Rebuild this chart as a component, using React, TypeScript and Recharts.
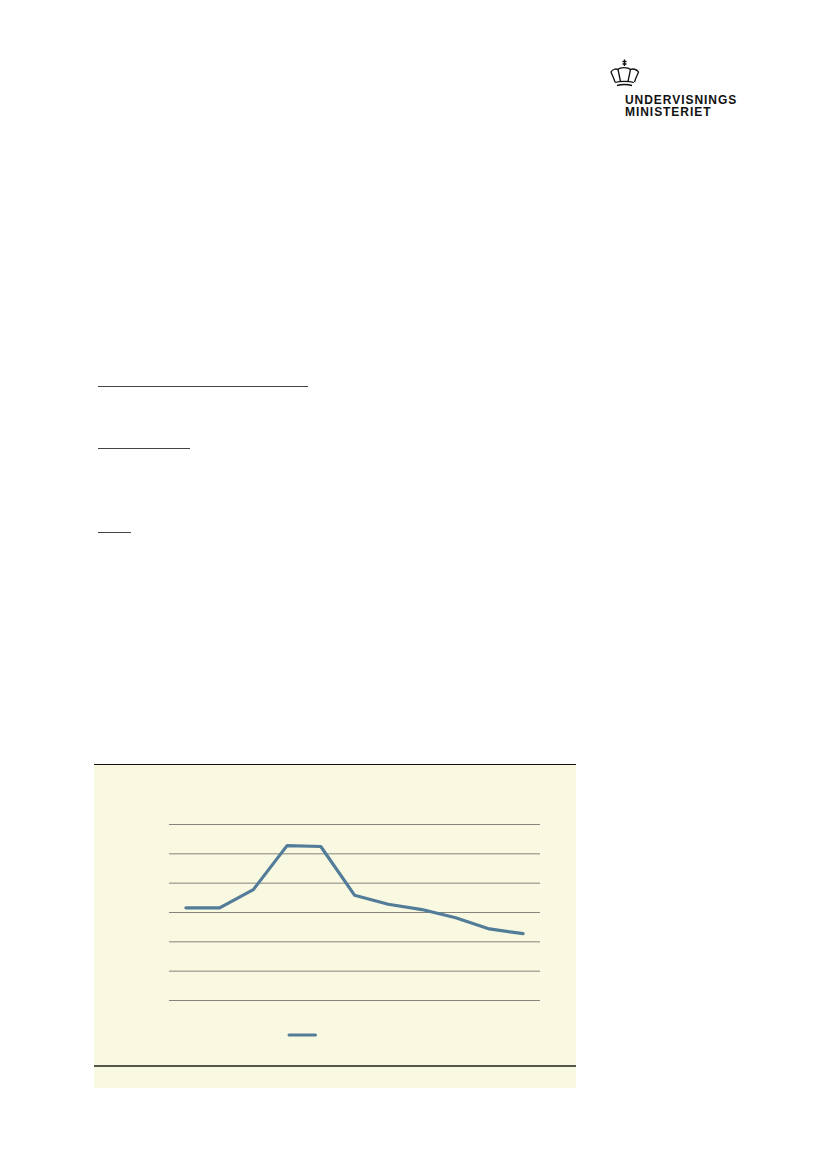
import React from "react";
import { LineChart, Line, CartesianGrid, XAxis, YAxis, Legend } from "recharts";

const categories = ["1", "2", "3", "4", "5", "6", "7", "8", "9", "10", "11"];
const seriesValues = [3.16, 3.16, 3.78, 5.28, 5.25, 3.59, 3.28, 3.1, 2.82, 2.44, 2.28];
const yTicks = [0, 1, 2, 3, 4, 5, 6];
const logoLines = ["UNDERVISNINGS", "MINISTERIET"];
const underlines = [
  { left: 98, top: 385.5, width: 210 },
  { left: 98, top: 448, width: 92 },
  { left: 98, top: 531.5, width: 33 },
];

const rows = categories.map((c, i) => ({ c, v: seriesValues[i] }));
const BLUE = "#527c98";

const Swatch = () => (
  <svg width={482} height={10} style={{ display: "block" }}>
    <line x1={195} x2={221.5} y1={5} y2={5} stroke={BLUE} strokeWidth={3} strokeLinecap="round" />
  </svg>
);

const Logo = () => (
  <div style={{ position: "absolute", left: 610, top: 58, width: 140, height: 62 }}>
    <svg width={32} height={30} style={{ position: "absolute", left: 0, top: 0 }} fill="none" stroke="#111" strokeWidth={1.3}>
      <path d="M14.5 1.500v6.500M12.500 3.500h4M12.500 6h4" />
      <path d="M5 24c-1-4-3-7-4-10 1.500-3 5-3.500 7-2.500 2-2.500 10-2.500 12.500 0 2-1 6-.5 8 2.500-1 3-3 6-4 10" />
      <path d="M8 11.500l2.500 12M20.500 11.500l-2.500 12M5 24.500c5-1.500 14-1.500 19 0" />
      <path d="M7 27.500c4-1 11-1 15 0" strokeWidth={1.5} />
    </svg>
    <div style={{ position: "absolute", left: 15, top: 35.5, fontFamily: "Liberation Sans", fontWeight: 700, fontSize: 12, lineHeight: "12px", letterSpacing: 0.95, color: "#111", whiteSpace: "nowrap" }}>
      {logoLines.map((l) => (
        <div key={l}>{l}</div>
      ))}
    </div>
  </div>
);

export default function App() {
  return (
    <div style={{ position: "absolute", left: 0, top: 0, width: 827, height: 1169, background: "#fff", overflow: "hidden" }}>
      <Logo />
      {underlines.map((u) => (
        <div key={u.top} style={{ position: "absolute", left: u.left, top: u.top, width: u.width, height: 1, background: "#444" }} />
      ))}
      <div style={{ position: "absolute", left: 94, top: 764, width: 482, height: 324, background: "#f9f8e1" }}>
        <LineChart
          width={482}
          height={324}
          data={rows}
          margin={{ top: 60.5, right: 36, bottom: 77.5, left: 75 }}
        >
          <CartesianGrid horizontal vertical={false} stroke="#84847c" strokeWidth={1} />
          <XAxis dataKey="c" hide padding={{ left: 16.9, right: 16.9 }} />
          <YAxis hide domain={[0, 6]} ticks={yTicks} />
          <Legend content={<Swatch />} verticalAlign="bottom" wrapperStyle={{ left: 0, bottom: 48, width: 482 }} />
          <Line
            dataKey="v"
            type="linear"
            stroke={BLUE}
            strokeWidth={3.2}
            dot={false}
            strokeLinecap="round"
            strokeLinejoin="round"
            isAnimationActive={false}
          />
        </LineChart>
        <div style={{ position: "absolute", left: 0, top: -0.5, width: 482, height: 1.6, background: "#111" }} />
        <div style={{ position: "absolute", left: 0, top: 301, width: 482, height: 2, background: "#55554c" }} />
      </div>
    </div>
  );
}
